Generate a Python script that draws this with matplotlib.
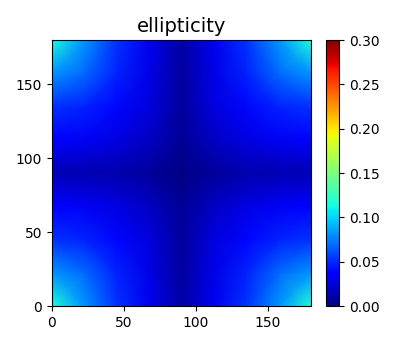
# ellipticity map with jet colormap
import numpy as np
import matplotlib
matplotlib.use("Agg")
import matplotlib.pyplot as plt

# sample positions (degrees) along each axis
xs = [0, 22.5, 45, 67.5, 90, 112.5, 135, 157.5, 180]
ys = [0, 22.5, 45, 67.5, 90, 112.5, 135, 157.5, 180]

# ellipticity, rows go from y=0 up to y=180
ell = [
    [0.115, 0.082, 0.052, 0.030, 0.010, 0.030, 0.052, 0.082, 0.115],
    [0.082, 0.068, 0.047, 0.028, 0.009, 0.028, 0.047, 0.068, 0.082],
    [0.052, 0.047, 0.039, 0.025, 0.008, 0.025, 0.039, 0.047, 0.052],
    [0.033, 0.031, 0.026, 0.018, 0.006, 0.018, 0.026, 0.031, 0.033],
    [0.015, 0.014, 0.012, 0.008, 0.002, 0.008, 0.012, 0.014, 0.015],
    [0.033, 0.031, 0.026, 0.018, 0.006, 0.018, 0.026, 0.031, 0.033],
    [0.052, 0.047, 0.039, 0.025, 0.008, 0.025, 0.039, 0.047, 0.052],
    [0.082, 0.068, 0.047, 0.028, 0.009, 0.028, 0.047, 0.068, 0.082],
    [0.115, 0.082, 0.052, 0.030, 0.010, 0.030, 0.052, 0.082, 0.115],
]
cbar_ticks = [0.00, 0.05, 0.10, 0.15, 0.20, 0.25, 0.30]

fig = plt.figure(figsize=(4.16, 3.45), dpi=100)
ax = fig.add_axes([0.125, 0.113, 0.623, 0.771])
cax = fig.add_axes([0.783, 0.113, 0.032, 0.771])

X, Y = np.meshgrid(xs, ys)
mesh = ax.pcolormesh(X, Y, np.array(ell), cmap="jet", vmin=0, vmax=0.3,
                     shading="gouraud")
ax.set_xlim(0, 180)
ax.set_ylim(0, 180)
ax.set_xticks([0, 50, 100, 150])
ax.set_yticks([0, 50, 100, 150])
ax.set_title("ellipticity", fontsize=14)

cb = fig.colorbar(mesh, cax=cax, ticks=cbar_ticks)
cb.ax.set_yticklabels(["%.2f" % t for t in cbar_ticks])

fig.savefig("out.png", dpi=100)
